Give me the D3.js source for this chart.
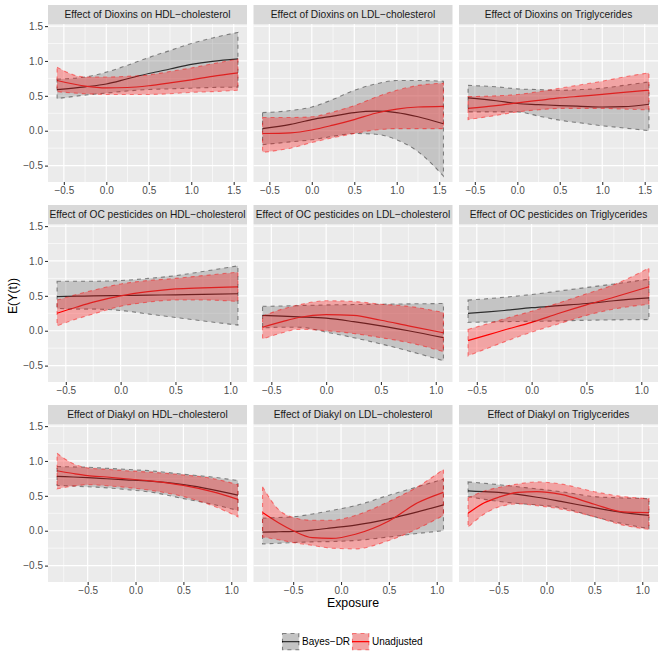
<!DOCTYPE html>
<html>
<head>
<meta charset="utf-8">
<script src="https://cdn.jsdelivr.net/npm/d3@7"></script>
<style>
  body { margin: 0; background: #fff; }
  svg { display: block; }
  text { font-family: "Liberation Sans", Arial, Helvetica, sans-serif; }
</style>
</head>
<body>
<svg id="chart" width="664" height="664"></svg>
<script>
// facet labels
const exposures = ["Dioxins", "OC pesticides", "Diakyl"];
const outcomes = ["HDL−cholesterol", "LDL−cholesterol", "Triglycerides"];
const methods = ["Bayes−DR", "Unadjusted"];

const xTicks = [[-0.5, 0, 0.5, 1, 1.5], [-0.5, 0, 0.5, 1], [-0.5, 0, 0.5, 1]];
const yTicks = [-0.5, 0, 0.5, 1, 1.5];

// exposure grids (one per row)
const xsDioxins = [-0.58, -0.25, 0, 0.25, 0.5, 0.75, 1.0, 1.25, 1.55];
const xsOC = [-0.58, -0.4, -0.25, 0, 0.25, 0.5, 0.75, 1.07];
const xsDiakyl = [-0.82, -0.65, -0.5, -0.3, -0.1, 0.15, 0.5, 0.8, 1.07];

// [estimate, lower, upper]
const dioxinsHdlBayes = [[0.59,0.46,0.74],[0.63,0.51,0.77],[0.67,0.54,0.84],[0.745,0.57,0.94],[0.82,0.59,1.05],[0.885,0.60,1.15],[0.95,0.61,1.25],[0.995,0.62,1.33],[1.03,0.625,1.41]];
const dioxinsHdlUnadj = [[0.72,0.56,0.91],[0.64,0.53,0.77],[0.615,0.52,0.77],[0.62,0.52,0.78],[0.645,0.52,0.80],[0.685,0.53,0.85],[0.73,0.55,0.90],[0.78,0.56,0.96],[0.83,0.58,1.03]];
const dioxinsLdlBayes = [[0.03,-0.20,0.26],[0.09,-0.16,0.29],[0.16,-0.13,0.34],[0.21,-0.08,0.45],[0.26,-0.04,0.58],[0.28,-0.05,0.67],[0.26,-0.13,0.72],[0.20,-0.30,0.72],[0.10,-0.65,0.71]];
const dioxinsLdlUnadj = [[-0.04,-0.31,0.19],[-0.03,-0.25,0.19],[0.01,-0.17,0.20],[0.08,-0.10,0.27],[0.16,-0.04,0.36],[0.25,0.01,0.48],[0.31,0.03,0.58],[0.34,0.03,0.65],[0.35,0.03,0.68]];
const dioxinsTgBayes = [[0.47,0.27,0.65],[0.43,0.27,0.63],[0.39,0.27,0.60],[0.375,0.21,0.59],[0.36,0.15,0.58],[0.35,0.11,0.59],[0.34,0.07,0.61],[0.345,0.04,0.65],[0.38,0.00,0.70]];
const dioxinsTgUnadj = [[0.32,0.16,0.49],[0.36,0.22,0.50],[0.40,0.27,0.52],[0.435,0.30,0.56],[0.47,0.32,0.61],[0.495,0.32,0.66],[0.52,0.32,0.71],[0.55,0.31,0.77],[0.58,0.30,0.83]];

const ocHdlBayes = [[0.49,0.32,0.71],[0.495,0.31,0.71],[0.50,0.31,0.71],[0.505,0.29,0.72],[0.51,0.24,0.75],[0.515,0.19,0.79],[0.52,0.14,0.85],[0.53,0.08,0.93]];
const ocHdlUnadj = [[0.25,0.07,0.44],[0.34,0.17,0.52],[0.41,0.24,0.58],[0.50,0.35,0.67],[0.56,0.41,0.72],[0.60,0.44,0.75],[0.615,0.44,0.79],[0.63,0.42,0.84]];
const ocLdlBayes = [[0.22,0.04,0.35],[0.21,0.05,0.355],[0.20,0.05,0.36],[0.18,-0.02,0.37],[0.13,-0.10,0.375],[0.07,-0.19,0.38],[0.00,-0.29,0.385],[-0.10,-0.43,0.39]];
const ocLdlUnadj = [[0.05,-0.12,0.21],[0.13,-0.03,0.31],[0.19,0.02,0.37],[0.23,0.00,0.43],[0.22,-0.04,0.42],[0.15,-0.10,0.38],[0.07,-0.17,0.35],[-0.03,-0.30,0.26]];
const ocTgBayes = [[0.25,0.12,0.44],[0.27,0.125,0.46],[0.29,0.13,0.48],[0.33,0.135,0.52],[0.36,0.14,0.57],[0.39,0.15,0.62],[0.43,0.155,0.67],[0.47,0.16,0.74]];
const ocTgUnadj = [[-0.14,-0.36,0.02],[-0.06,-0.25,0.10],[0.01,-0.16,0.17],[0.12,-0.02,0.28],[0.25,0.10,0.40],[0.37,0.22,0.53],[0.48,0.31,0.66],[0.63,0.38,0.90]];

const diakylHdlBayes = [[0.78,0.65,0.92],[0.77,0.64,0.915],[0.76,0.63,0.91],[0.745,0.615,0.895],[0.73,0.59,0.88],[0.71,0.555,0.86],[0.66,0.46,0.81],[0.59,0.38,0.77],[0.51,0.29,0.72]];
const diakylHdlUnadj = [[0.86,0.60,1.11],[0.82,0.64,0.96],[0.79,0.66,0.90],[0.77,0.645,0.88],[0.745,0.62,0.86],[0.715,0.58,0.84],[0.65,0.49,0.80],[0.56,0.36,0.75],[0.45,0.20,0.66]];
const diakylLdlBayes = [[-0.02,-0.19,0.18],[-0.015,-0.18,0.19],[-0.01,-0.17,0.20],[0.01,-0.16,0.24],[0.04,-0.155,0.29],[0.08,-0.14,0.36],[0.17,-0.09,0.51],[0.27,-0.04,0.63],[0.37,0.00,0.74]];
const diakylLdlUnadj = [[0.26,-0.09,0.63],[0.11,-0.13,0.30],[0.00,-0.17,0.19],[-0.10,-0.21,0.15],[-0.11,-0.25,0.15],[-0.05,-0.26,0.22],[0.14,-0.14,0.42],[0.40,0.03,0.63],[0.55,0.22,0.88]];
const diakylTgBayes = [[0.57,0.49,0.70],[0.56,0.45,0.68],[0.55,0.42,0.66],[0.52,0.39,0.63],[0.48,0.37,0.60],[0.42,0.33,0.56],[0.33,0.20,0.49],[0.26,0.10,0.47],[0.22,0.03,0.46]];
const diakylTgUnadj = [[0.25,0.05,0.47],[0.40,0.24,0.57],[0.48,0.34,0.62],[0.55,0.385,0.67],[0.56,0.36,0.70],[0.52,0.31,0.67],[0.38,0.20,0.56],[0.27,0.08,0.49],[0.26,0.02,0.46]];

const rowXs = [xsDioxins, xsOC, xsDiakyl];
const panels = [
  [dioxinsHdlBayes, dioxinsHdlUnadj], [dioxinsLdlBayes, dioxinsLdlUnadj], [dioxinsTgBayes, dioxinsTgUnadj],
  [ocHdlBayes, ocHdlUnadj], [ocLdlBayes, ocLdlUnadj], [ocTgBayes, ocTgUnadj],
  [diakylHdlBayes, diakylHdlUnadj], [diakylLdlBayes, diakylLdlUnadj], [diakylTgBayes, diakylTgUnadj]
];

const lineCol = ["#000000", "#ff0000"];
const fillCol = ["rgba(127,127,127,0.36)", "rgba(255,0,0,0.3)"];
const edgeCol = ["rgba(0,0,0,0.42)", "rgba(255,0,0,0.45)"];

const svg = d3.select("#chart");
const colX = [48, 253.5, 459], rowY = [24, 224, 424];
const pw = 199, ph = 158, stripH = 19;
const fmt = d3.format(".1f");

const y = d3.scaleLinear().domain([-0.735, 1.53]).range([ph, 0]);

panels.forEach(function(p, i) {
  const r = Math.floor(i / 3), c = i % 3;
  const xs = rowXs[r];
  const ext = d3.extent(xs), pad = (ext[1] - ext[0]) * 0.05;
  const x = d3.scaleLinear().domain([ext[0] - pad, ext[1] + pad]).range([0, pw]);

  const g = svg.append("g").attr("transform", "translate(" + colX[c] + "," + rowY[r] + ")");

  g.append("rect").attr("width", pw).attr("height", ph).attr("fill", "#EBEBEB");

  // grid
  const xt = xTicks[r];
  const xMinor = xt.map(t => t - 0.25).concat([xt[xt.length - 1] + 0.25])
    .filter(v => v > x.domain()[0] && v < x.domain()[1]);
  const yMinor = [-0.25, 0.25, 0.75, 1.25];
  g.selectAll(".xminor").data(xMinor).enter().append("line")
    .attr("x1", d => x(d)).attr("x2", d => x(d)).attr("y1", 0).attr("y2", ph)
    .attr("stroke", "#fff").attr("stroke-width", 0.6);
  g.selectAll(".yminor").data(yMinor).enter().append("line")
    .attr("x1", 0).attr("x2", pw).attr("y1", d => y(d)).attr("y2", d => y(d))
    .attr("stroke", "#fff").attr("stroke-width", 0.6);
  g.selectAll(".xmajor").data(xt).enter().append("line")
    .attr("x1", d => x(d)).attr("x2", d => x(d)).attr("y1", 0).attr("y2", ph)
    .attr("stroke", "#fff").attr("stroke-width", 1.2);
  g.selectAll(".ymajor").data(yTicks).enter().append("line")
    .attr("x1", 0).attr("x2", pw).attr("y1", d => y(d)).attr("y2", d => y(d))
    .attr("stroke", "#fff").attr("stroke-width", 1.2);

  const line = d3.line()
    .x((d, k) => x(xs[k])).y(d => y(d[0]))
    .curve(d3.curveMonotoneX);
  const area = d3.area()
    .x((d, k) => x(xs[k])).y0(d => y(d[1])).y1(d => y(d[2]))
    .curve(d3.curveMonotoneX);

  // lines sit under the ribbons
  p.forEach(function(s, m) {
    g.append("path").attr("d", line(s)).attr("fill", "none")
      .attr("stroke", lineCol[m]).attr("stroke-width", 1.2);
  });
  p.forEach(function(s, m) {
    g.append("path").attr("d", area(s) + "Z")
      .attr("fill", fillCol[m]).attr("stroke", edgeCol[m])
      .attr("stroke-width", 1.1).attr("stroke-dasharray", "4,4");
  });

  // strip
  g.append("rect").attr("y", -stripH).attr("width", pw).attr("height", stripH).attr("fill", "#D9D9D9");
  g.append("text").attr("x", pw / 2).attr("y", -stripH / 2).attr("dy", "0.35em")
    .attr("text-anchor", "middle").attr("font-size", "10.2px").attr("fill", "#1A1A1A")
    .text("Effect of " + exposures[r] + " on " + outcomes[c]);

  // x axis
  const xa = g.append("g").attr("transform", "translate(0," + ph + ")")
    .call(d3.axisBottom(x).tickValues(xt).tickSize(3).tickPadding(2).tickFormat(fmt));
  xa.select(".domain").remove();
  xa.selectAll("line").attr("stroke", "#333").attr("stroke-width", 1.1);
  xa.selectAll("text").attr("fill", "#4D4D4D").attr("font-size", "10px")
    .attr("font-family", "Liberation Sans, Arial, sans-serif");

  if (c === 0) {
    const ya = g.append("g")
      .call(d3.axisLeft(y).tickValues(yTicks).tickSize(3).tickPadding(2).tickFormat(fmt));
    ya.select(".domain").remove();
    ya.selectAll("line").attr("stroke", "#333").attr("stroke-width", 1.1);
    ya.selectAll("text").attr("fill", "#4D4D4D").attr("font-size", "10px")
      .attr("font-family", "Liberation Sans, Arial, sans-serif");
  }
});

// axis titles
svg.append("text").attr("transform", "translate(16.5,296) rotate(-90)")
  .attr("text-anchor", "middle").attr("font-size", "12.3px").attr("fill", "#000")
  .text("E(Y(t))");
svg.append("text").attr("x", 353).attr("y", 607)
  .attr("text-anchor", "middle").attr("font-size", "12.3px").attr("fill", "#000")
  .text("Exposure");

// legend
const legX = [282, 352];
methods.forEach(function(name, m) {
  const lg = svg.append("g").attr("transform", "translate(" + legX[m] + ",633)");
  lg.append("rect").attr("width", 17.3).attr("height", 17.3).attr("fill", "#EBEBEB");
  lg.append("line").attr("x1", 0).attr("x2", 17.3).attr("y1", 8.65).attr("y2", 8.65)
    .attr("stroke", lineCol[m]).attr("stroke-width", 1.2);
  lg.append("rect").attr("x", 0.5).attr("y", 0.5).attr("width", 16.3).attr("height", 16.3)
    .attr("fill", fillCol[m]).attr("stroke", edgeCol[m])
    .attr("stroke-width", 1.1).attr("stroke-dasharray", "4,4");
  lg.append("text").attr("x", 20).attr("y", 8.65).attr("dy", "0.35em")
    .attr("font-size", "10px").attr("fill", "#000").text(name);
});
</script>
</body>
</html>
